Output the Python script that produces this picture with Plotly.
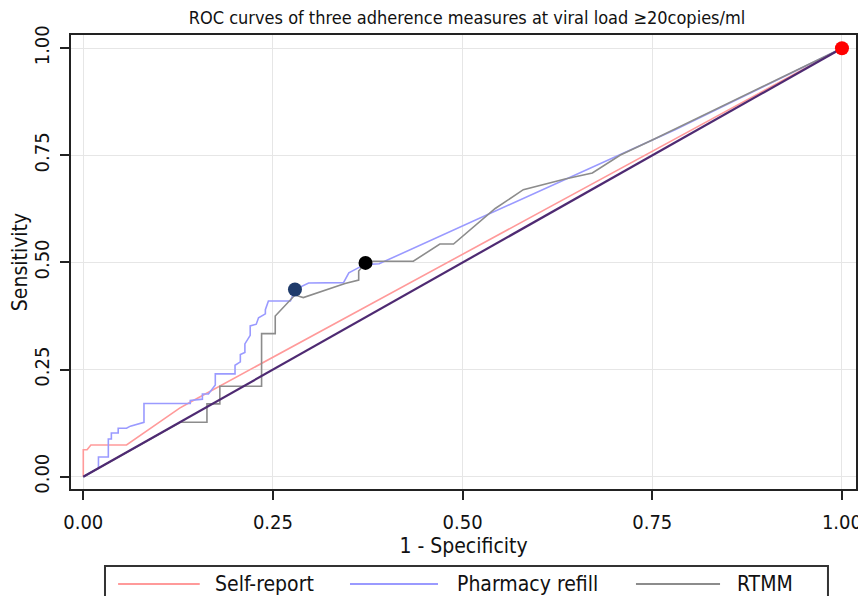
import plotly.graph_objects as go

# ---- data ----
series_names = ["Self-report", "Pharmacy refill", "RTMM"]
series_colors = ["#ff9a9a", "#9a9aff", "#8c8c8c"]

self_x = [0, 0, 0.005, 0.01, 0.057, 0.127, 0.142, 1.0]
self_y = [0, 0.063, 0.063, 0.074, 0.074, 0.160, 0.175, 1.0]

pharm_x = [0, 0.020, 0.020, 0.033, 0.033, 0.037, 0.037, 0.046, 0.046, 0.057, 0.062, 0.077,
           0.080, 0.080, 0.141, 0.141, 0.157, 0.157, 0.165, 0.174, 0.174, 0.200, 0.200,
           0.207, 0.207, 0.213, 0.213, 0.220, 0.220, 0.228, 0.231, 0.240, 0.240, 0.244,
           0.273, 0.279, 0.297, 0.343, 0.350, 0.363, 0.372, 0.390, 0.600, 0.780, 1.0]
pharm_y = [0, 0.020, 0.046, 0.046, 0.088, 0.088, 0.102, 0.102, 0.113, 0.113, 0.118, 0.127,
           0.127, 0.171, 0.171, 0.178, 0.181, 0.193, 0.193, 0.214, 0.240, 0.240, 0.260,
           0.268, 0.285, 0.290, 0.310, 0.330, 0.352, 0.356, 0.371, 0.380, 0.390, 0.410,
           0.410, 0.437, 0.452, 0.453, 0.476, 0.488, 0.495, 0.497, 0.665, 0.810, 1.0]

rtmm_x = [0, 0.128, 0.163, 0.163, 0.180, 0.180, 0.235, 0.235, 0.253, 0.253, 0.279, 0.290,
          0.345, 0.363, 0.363, 0.372, 0.380, 0.435, 0.470, 0.488, 0.543, 0.580, 0.635,
          0.671, 0.708, 0.750, 1.0]
rtmm_y = [0, 0.127, 0.127, 0.170, 0.170, 0.211, 0.211, 0.334, 0.334, 0.375, 0.424, 0.418,
          0.451, 0.459, 0.480, 0.499, 0.503, 0.503, 0.543, 0.543, 0.626, 0.670, 0.695,
          0.709, 0.751, 0.786, 1.0]

ref_x = [0, 1]
ref_y = [0, 1]

cut_x = [0.279, 0.372, 1.0]
cut_y = [0.437, 0.499, 1.0]
cut_colors = ["#1f3b6b", "#000000", "#ff0000"]

ticks = [0, 0.25, 0.5, 0.75, 1.0]
tick_text = ["0.00", "0.25", "0.50", "0.75", "1.00"]

FONT = "DejaVu Sans Condensed, Liberation Sans Narrow, Arial, sans-serif"

fig = go.Figure()
for xs, ys, name, col in zip([self_x, pharm_x, rtmm_x], [self_y, pharm_y, rtmm_y],
                             series_names, series_colors):
    fig.add_trace(go.Scatter(x=xs, y=ys, mode="lines", name=name,
                             line=dict(color=col, width=1.6), showlegend=False,
                             hoverinfo="skip"))
fig.add_trace(go.Scatter(x=ref_x, y=ref_y, mode="lines", name="Reference",
                         line=dict(color="#4e2a72", width=2.2), showlegend=False))
fig.add_trace(go.Scatter(x=cut_x, y=cut_y, mode="markers", showlegend=False,
                         marker=dict(color=cut_colors, size=14, line=dict(width=0))))

axis_common = dict(
    tickvals=ticks, ticktext=tick_text, showgrid=True, gridcolor="#e6e6e6", gridwidth=1,
    zeroline=False, showline=True, linecolor="#222222", linewidth=2, mirror=True,
    ticks="outside", ticklen=9, tickwidth=1.5, tickcolor="#222222", automargin=False,
    ticklabeloverflow="allow",
    tickfont=dict(family=FONT, size=20, color="#111111"),
)

# the page body has an 8px default margin, so the figure is sized/offset to fit the window
fig.update_layout(
    width=858, height=588,
    margin=dict(l=63, r=10, t=27, b=107),
    paper_bgcolor="white", plot_bgcolor="white",
    title=dict(text="ROC curves of three adherence measures at viral load ≥20copies/ml",
               x=0.535, xanchor="center", y=0.983, yanchor="middle",
               font=dict(family=FONT, size=18, color="#111111")),
    xaxis=dict(range=[-0.0162, 1.0185], ticklabelstandoff=5,
               title=dict(text="1 - Specificity", standoff=0,
                          font=dict(family=FONT, size=21, color="#111111")), **axis_common),
    yaxis=dict(range=[-0.0287, 1.031], tickangle=-90, ticklabelstandoff=3,
               title=dict(text="Sensitivity", standoff=0,
                          font=dict(family=FONT, size=21, color="#111111")), **axis_common),
)

# ---- legend box (drawn as layout elements) ----
leg_line_x = [(0.060, 0.164), (0.3554, 0.4675), (0.7197, 0.8268)]
leg_text_x = [0.181, 0.489, 0.8459]
leg_y = -0.2093
fig.add_shape(type="rect", xref="paper", yref="paper", x0=0.0433, x1=0.9643,
              y0=-0.29, y1=-0.1696, line=dict(color="#333333", width=2),
              fillcolor="white")
for (a, b), tx, name, col in zip(leg_line_x, leg_text_x, series_names, series_colors):
    fig.add_shape(type="line", xref="paper", yref="paper", x0=a, x1=b, y0=leg_y, y1=leg_y,
                  line=dict(color=col, width=2))
    fig.add_annotation(xref="paper", yref="paper", x=tx, y=leg_y, text=name,
                       showarrow=False, xanchor="left", yanchor="middle",
                       font=dict(family=FONT, size=21, color="#111111"))

fig.write_html("out.html")
